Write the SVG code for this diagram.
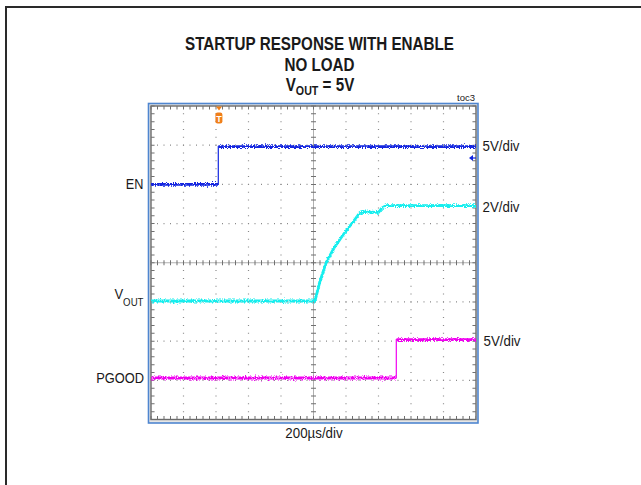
<svg xmlns="http://www.w3.org/2000/svg" width="641" height="485" viewBox="0 0 641 485">
<style>
.t{font-family:"Liberation Sans",Arial,sans-serif;fill:#1a1a1a}
.b{font-weight:bold}
.lab{font-size:15.5px}
.tr{fill:none;stroke-linejoin:round}
.dv{stroke:#8a8a8a;stroke-width:1.2;stroke-dasharray:1 6.8375}
.dh{stroke:#8a8a8a;stroke-width:1.2;stroke-dasharray:1 5.5}
.tkh{stroke:#707070;stroke-width:1;stroke-dasharray:1 5.5}
.tkv{stroke:#707070;stroke-width:1;stroke-dasharray:1 6.8375}
</style>
<defs>
<filter id="noise" filterUnits="userSpaceOnUse" x="140" y="95" width="350" height="340">
<feTurbulence type="fractalNoise" baseFrequency="1.1 0.7" numOctaves="2" seed="5" result="n"/>
<feColorMatrix in="n" type="matrix" values="0 0 0 0 0.5  1.3 0 0 0 -0.15  0 0 0 0 0  0 0 0 0 1" result="m"/>
<feDisplacementMap in="SourceGraphic" in2="m" scale="4" xChannelSelector="R" yChannelSelector="G"/>
</filter>
</defs>
<rect width="641" height="485" fill="#ffffff"/>
<rect id="frame" x="6" y="7" width="700" height="600" fill="none" stroke="#2a2a2a" stroke-width="2"/>

<g id="title" class="t b" text-anchor="middle">
<text transform="translate(319.5,50) scale(0.855,1)" font-size="17.8">STARTUP RESPONSE WITH ENABLE</text>
<text transform="translate(319.5,70.5) scale(0.855,1)" font-size="17.8">NO LOAD</text>
<text transform="translate(320,90.7) scale(0.855,1)" font-size="17.8">V<tspan font-size="12.5" dy="4.5">OUT</tspan><tspan dy="-4.5"> = 5V</tspan></text>
</g>
<text id="toc" class="t" x="475" y="100.5" font-size="9.5" text-anchor="end">toc3</text>

<g id="scope">
<rect x="148.5" y="103.5" width="329.5" height="319.5" fill="#e6e6e6" stroke="#4f86d0" stroke-width="1.6"/>
<rect x="151" y="106" width="325" height="313.5" fill="#ffffff" stroke="#6a6a6a" stroke-width="1.4"/>
<g id="grid">
<line class="dv" x1="183.5" y1="105.5" x2="183.5" y2="419.5"/>
<line class="dv" x1="216" y1="105.5" x2="216" y2="419.5"/>
<line class="dv" x1="248.5" y1="105.5" x2="248.5" y2="419.5"/>
<line class="dv" x1="281" y1="105.5" x2="281" y2="419.5"/>
<line class="dv" x1="346" y1="105.5" x2="346" y2="419.5"/>
<line class="dv" x1="378.5" y1="105.5" x2="378.5" y2="419.5"/>
<line class="dv" x1="411" y1="105.5" x2="411" y2="419.5"/>
<line class="dv" x1="443.5" y1="105.5" x2="443.5" y2="419.5"/>
<line class="dh" x1="150.5" y1="145.19" x2="476" y2="145.19"/>
<line class="dh" x1="150.5" y1="184.38" x2="476" y2="184.38"/>
<line class="dh" x1="150.5" y1="223.56" x2="476" y2="223.56"/>
<line class="dh" x1="150.5" y1="301.94" x2="476" y2="301.94"/>
<line class="dh" x1="150.5" y1="341.13" x2="476" y2="341.13"/>
<line class="dh" x1="150.5" y1="380.31" x2="476" y2="380.31"/>
<line x1="151" y1="262.75" x2="476" y2="262.75" stroke="#b0b0b0" stroke-width="1"/>
<line x1="313.5" y1="106" x2="313.5" y2="419.5" stroke="#b0b0b0" stroke-width="1"/>
<line class="tkh" x1="150.5" y1="262.75" x2="476" y2="262.75" style="stroke-width:5"/>
<line class="tkv" x1="313.5" y1="105.5" x2="313.5" y2="419.5" style="stroke-width:5"/>
<line class="tkh" x1="150.5" y1="107.8" x2="476" y2="107.8" style="stroke-width:3.5"/>
<line class="tkh" x1="150.5" y1="417.7" x2="476" y2="417.7" style="stroke-width:3.5"/>
<line class="tkv" x1="152.8" y1="105.5" x2="152.8" y2="419.5" style="stroke-width:3.5"/>
<line class="tkv" x1="474.2" y1="105.5" x2="474.2" y2="419.5" style="stroke-width:3.5"/>
</g>
</g>

<g id="traces">
<g filter="url(#noise)">
<path class="tr" d="M151,184.4 L218,184.4 M218.5,146.6 L476,146.6" stroke="#1226e0" stroke-width="2.8"/>
<path class="tr" d="M151,301 L315,301 Q319,282 326,263 L334,248 L343,235 L353,222 L358.5,214.5 Q361,212 364,211.8 L378.5,212.3 L382,208 L386,205.6 L476,205.6" stroke="#14eeee" stroke-width="2.8"/>
<path class="tr" d="M151,378 L396,378 M396.5,339.6 L476,339.6" stroke="#f000f0" stroke-width="2.8"/>
</g>
<line x1="218.3" y1="185" x2="218.3" y2="146" stroke="#1226e0" stroke-width="1.2"/>
<line x1="396.3" y1="378.5" x2="396.3" y2="339" stroke="#f000f0" stroke-width="1.2"/>
</g>

<g id="markers">
<polygon points="216,106.5 222,106.5 219,110.5" fill="#f07f1a"/>
<rect x="215.4" y="112.5" width="7" height="11" rx="2.2" fill="#f07f1a"/>
<text class="t b" x="218.9" y="121.6" font-size="9" text-anchor="middle" style="fill:#ffffff">T</text>
<polygon points="469,158 473,155 473,161" fill="#1226e0"/>
<line x1="473" y1="158" x2="476" y2="158" stroke="#1226e0" stroke-width="1.2"/>
</g>

<g id="left-labels" class="t lab" text-anchor="end">
<text transform="translate(143.5,188.5) scale(0.82,1)">EN</text>
<text transform="translate(143.5,298.5) scale(0.84,1)">V<tspan font-size="11.5" dy="7.5">OUT</tspan></text>
<text transform="translate(144,382.8) scale(0.83,1)">PGOOD</text>
</g>

<g id="right-labels" class="t lab">
<text transform="translate(482.5,150.5) scale(0.86,1)">5V/div</text>
<text transform="translate(482.5,212) scale(0.86,1)">2V/div</text>
<text transform="translate(483.5,345.5) scale(0.86,1)">5V/div</text>
</g>

<text id="xscale" class="t lab" text-anchor="middle" transform="translate(314,438.3) scale(0.86,1)">200µs/div</text>
</svg>
